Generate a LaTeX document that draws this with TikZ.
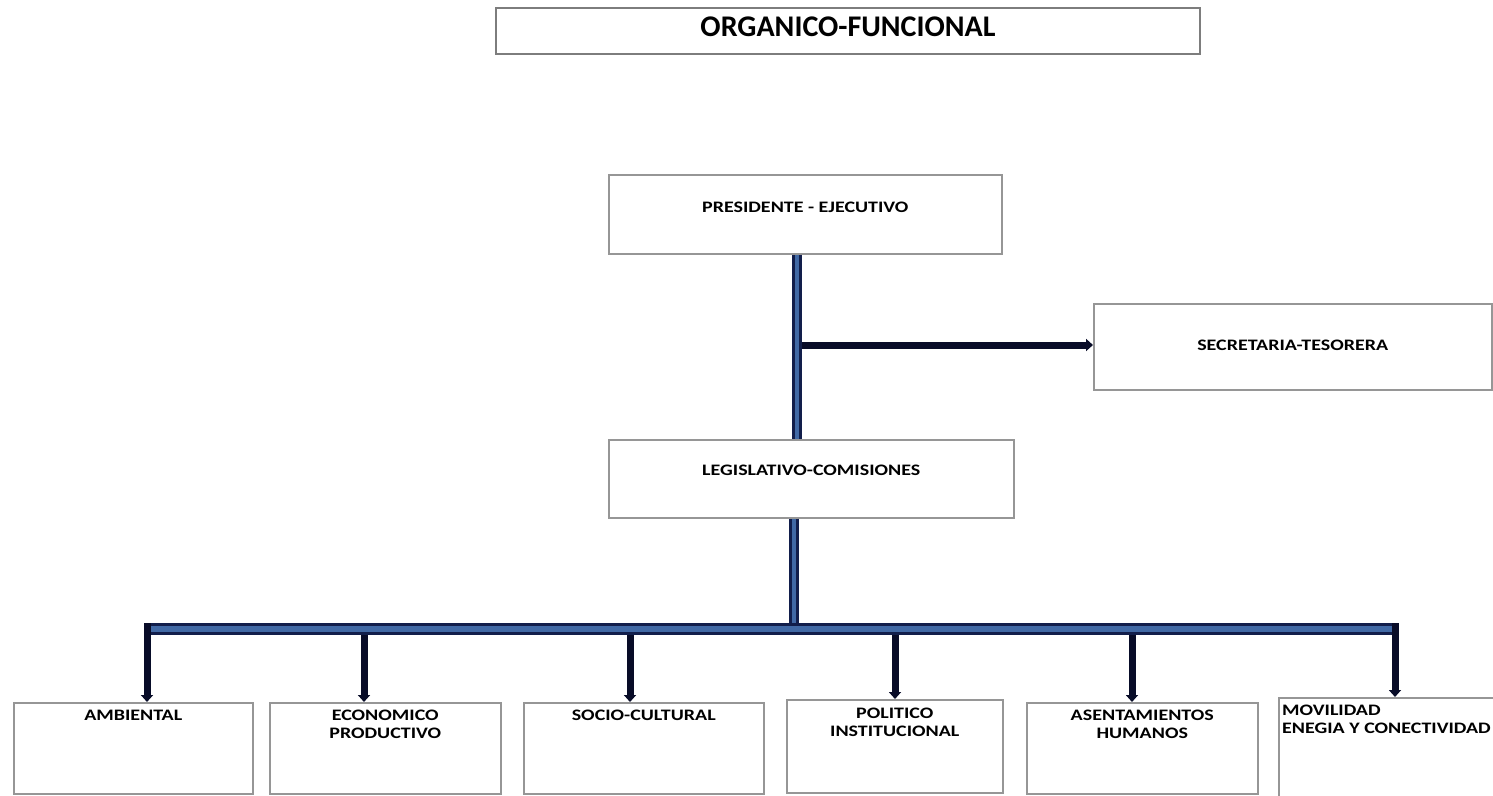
\documentclass[tikz,border=0pt]{standalone}
\usepackage{fontspec}
\setmainfont{Carlito}
\newfontfamily\widefont{Carlito}[FakeStretch=1.25]
\usetikzlibrary{arrows.meta}
\definecolor{boxgray}{RGB}{150,150,150}
\definecolor{titlegray}{RGB}{125,125,125}
\definecolor{busnavy}{RGB}{18,30,75}
\definecolor{busblue}{RGB}{65,105,165}
\definecolor{dropnavy}{RGB}{8,12,40}

\begin{document}
\begin{tikzpicture}[x=1pt,y=-1pt,
  unitbox/.style={draw=boxgray, line width=1.5pt, inner sep=0pt, anchor=north west},
  unitlabel/.style={inner sep=0pt, align=center, anchor=north, font=\widefont\bfseries\fontsize{16}{18}\selectfont},
  bus/.style={draw=busnavy, line width=3pt, double=busblue, double distance=4pt},
  drop/.style={draw=dropnavy, line width=7pt, -{Triangle[length=7pt,width=12pt]}}]
\fill[white] (0,0) rectangle (1493,795);
\useasboundingbox (0,0) rectangle (1493,795);

\node[unitbox, draw=titlegray, line width=2pt, minimum width=704pt, minimum height=46pt] (org) at (495,7) {};
\node[inner sep=0pt, anchor=north, font=\bfseries\fontsize{30}{36}\selectfont] (orgt) at ([yshift=-10pt]org.north) {ORGANICO-FUNCIONAL};

\node[unitbox, minimum width=393pt, minimum height=79pt] (pres) at (608,174) {};
\node[unitlabel] (prest) at ([yshift=-28pt]pres.north) {PRESIDENTE - EJECUTIVO};
\node[unitbox, minimum width=398pt, minimum height=86pt] (sec) at (1093,303) {};
\node[unitlabel] (sect) at ([yshift=-37pt]sec.north) {SECRETARIA-TESORERA};
\node[unitbox, minimum width=405pt, minimum height=78pt] (leg) at (608,439) {};
\node[unitlabel] (legt) at ([yshift=-26pt]leg.north) {LEGISLATIVO-COMISIONES};

\node[unitbox, minimum width=239pt, minimum height=91pt] (amb) at (13,702) {};
\node[unitlabel] (ambt) at ([yshift=-8pt]amb.north) {AMBIENTAL};
\node[unitbox, minimum width=231pt, minimum height=91pt] (eco) at (269,702) {};
\node[unitlabel] (ecot) at ([yshift=-8pt]eco.north) {ECONOMICO\\PRODUCTIVO};
\node[unitbox, minimum width=240pt, minimum height=91pt] (soc) at (523,702) {};
\node[unitlabel] (soct) at ([yshift=-8pt]soc.north) {SOCIO-CULTURAL};
\node[unitbox, minimum width=216pt, minimum height=93pt] (pol) at (786,699) {};
\node[unitlabel] (polt) at ([yshift=-9pt]pol.north) {POLITICO\\INSTITUCIONAL};
\node[unitbox, minimum width=231pt, minimum height=91pt] (ase) at (1026,702) {};
\node[unitlabel] (aset) at ([yshift=-8pt]ase.north) {ASENTAMIENTOS\\HUMANOS};
\node[unitbox, minimum width=240pt, minimum height=100pt] (mov) at (1278,697) {};
\node[unitlabel, align=left, anchor=north west] (movt) at ([xshift=4pt,yshift=-8pt]mov.north west) {MOVILIDAD\\ENEGIA Y CONECTIVIDAD};

\coordinate (spine) at (797,345);
\coordinate (busmid) at (794,629);
\coordinate (busleft) at (147,629);
\coordinate (busright) at (1395,629);
\coordinate (deco) at (364,629);
\coordinate (dsoc) at (630,629);
\coordinate (dpol) at (895,629);
\coordinate (dase) at (1132,629);

\draw[bus] (pres.south -| spine) -- (leg.north -| spine);
\draw[drop] ([xshift=5pt]spine) -- (spine -| sec.west);
\draw[bus] (leg.south -| busmid) -- (busmid);
\draw[bus, double distance=6pt] (busleft) -- (busright);

\draw[drop] ([yshift=6pt]busleft) -- (busleft |- amb.north);
\draw[drop] ([yshift=-6pt]deco) -- (deco |- eco.north);
\draw[drop] ([yshift=-6pt]dsoc) -- (dsoc |- soc.north);
\draw[drop] ([yshift=-6pt]dpol) -- (dpol |- pol.north);
\draw[drop] ([yshift=-6pt]dase) -- (dase |- ase.north);
\draw[drop] ([yshift=6pt]busright) -- (busright |- mov.north);

\end{tikzpicture}
\end{document}
